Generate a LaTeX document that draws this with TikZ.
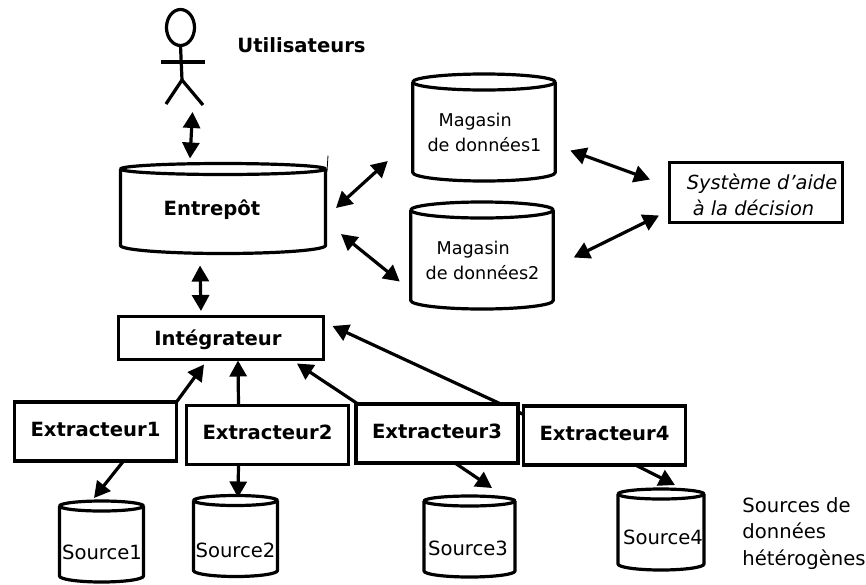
\documentclass[tikz,border=0pt]{standalone}
\usepackage{fontspec}
\setmainfont{DejaVu Sans}
\usepackage{xcolor}
\usetikzlibrary{positioning,backgrounds,shapes.geometric,calc,arrows.meta}

% Drum outline around a node: #1 node, #2 half height of the cap, #3 depth of the bottom curve
\newcommand{\drum}[3]{%
  \draw[drumline] ($(#1.north west)+(0,#2)$) -- ($(#1.south west)+(0,-#3)$)
    .. controls ($(#1.south west)+(0,-0.45*#3)$) and ($(#1.south west)!0.45!(#1.south)$) .. (#1.south)
    .. controls ($(#1.south east)!0.45!(#1.south)$) and ($(#1.south east)+(0,-0.45*#3)$) .. ($(#1.south east)+(0,-#3)$)
    -- ($(#1.north east)+(0,#2)$);
  \draw[drumline] ($(#1.north west)+(0,#2)$)
    .. controls ($(#1.north west)+(0,0.45*#2)$) and ($(#1.north west)!0.45!(#1.north)$) .. (#1.north)
    .. controls ($(#1.north east)!0.45!(#1.north)$) and ($(#1.north east)+(0,0.45*#2)$) .. ($(#1.north east)+(0,#2)$)
    .. controls ($(#1.north east)+(0,1.55*#2)$) and ($(#1.north east)!0.45!(#1.north)+(0,2*#2)$) .. ($(#1.north)+(0,2*#2)$)
    .. controls ($(#1.north west)!0.45!(#1.north)+(0,2*#2)$) and ($(#1.north west)+(0,1.55*#2)$) .. cycle;
}

\begin{document}
\begin{tikzpicture}[
    x=1pt, y=-1pt,
    box/.style={rectangle, draw=black, line width=3.2pt, fill=white, inner sep=0pt, outer sep=0pt, align=center, font=\fontsize{19.6}{24}\selectfont\bfseries},
    extract/.style={box, minimum width=162pt, minimum height=59pt, text depth=5pt},
    store/.style={rectangle, inner sep=0pt, outer sep=0pt},
    drumline/.style={draw=black, line width=3.2pt, fill=white, line join=round},
    source/.style={store, minimum width=84pt, minimum height=81pt},
    mart/.style={store, minimum width=142.5pt, minimum height=107pt},
    txt/.style={inner sep=0pt, align=left, font=\fontsize{19.6}{24}\selectfont},
    marttxt/.style={txt, font=\fontsize{17.6}{25}\selectfont},
    arrow/.style={-{Triangle[length=16pt,width=17pt]}, line width=3.2pt},
    both/.style={{Triangle[length=16pt,width=17pt]}-{Triangle[length=16pt,width=17pt]}, line width=3.2pt}
]
\useasboundingbox (0,0) rectangle (866,584);

% User figure (top)
\node[ellipse, draw=black, line width=3.2pt, minimum width=28pt, minimum height=36pt, inner sep=0pt, outer sep=0pt] (head) at (180.5,27.5) {};
\coordinate (hip) at (182,80);
\draw[line width=3.2pt] (head.south) -- (hip);
\draw[line width=3.2pt] (161,62) -- (205,62);
\draw[line width=3.2pt] (166,104) -- (hip) -- (203,105);
\node[txt, font=\fontsize{19.6}{24}\selectfont\bfseries] (users) at (301.5,45) {Utilisateurs};

% Warehouse and data marts
\node[store, minimum width=205pt, minimum height=90pt] (dw) at (223,208.5) {};
\drum{dw}{5.5}{8}
\draw[line width=0.8pt] ($(dw.east)+(1.5,-37)$) -- ($(dw.east)+(2.5,-53)$);
\node[txt, font=\fontsize{19.6}{24}\selectfont\bfseries] (dwtext) at (212,210) {Entrepôt};
\node[mart] (m1) at (484,127.5) {};
\drum{m1}{8}{8.5}
\node[marttxt] (m1text) at (484.5,132) {\hspace*{11pt}Magasin\\de données1};
\node[mart] (m2) at (482,255.5) {};
\drum{m2}{8}{8.5}
\node[marttxt] (m2text) at (482.5,260) {\hspace*{11pt}Magasin\\de données2};
\node[box, minimum width=173pt, minimum height=60pt, font=\fontsize{19.4}{26}\selectfont\itshape, align=left] (dss) at (756,192.5) {\rule{0pt}{20pt}\hspace*{12pt}Système d\symbol{39}aide\\\hspace*{18pt}à la décision};

% Integrator and extractors
\node[box, minimum width=205pt, minimum height=43pt, text height=19pt, text depth=4pt] (integ) at (221,338) {Intégrateur\hspace*{6pt}};
\node[extract] (e1) at (95.5,431.5) {Extracteur1};
\node[extract] (e2) at (267.5,435) {Extracteur2};
\node[extract] (e3) at (437,433.5) {Extracteur3};
\node[extract] (e4) at (604.5,435.5) {Extracteur4};

% Sources (bottom)
\node[source] (s1) at (101.5,541.5) {};
\drum{s1}{5}{6}
\node[txt] (s1text) at (102,552) {Source1};
\node[source] (s2) at (235.5,536) {};
\drum{s2}{5}{6}
\node[txt] (s2text) at (235.5,550) {Source2};
\node[source, minimum width=91pt] (s3) at (469.5,536.5) {};
\drum{s3}{5}{6}
\node[txt] (s3text) at (468,548) {Source3};
\node[source, minimum width=86pt] (s4) at (661,529.5) {};
\drum{s4}{5}{6}
\node[txt] (s4text) at (663,537) {Source4};
\node[txt, font=\fontsize{19.6}{26.5}\selectfont] (hetero) at (804,533.5) {Sources de\\données\\hétérogènes};

% Double arrows, all floating beside their nodes
\draw[both] ($(hip)+(10.5,32)$) -- ($(dw.north)+(-33,-5)$);
\draw[both] ($(dw.east)+(10.5,-0.5)$) -- ($(m1.west)+(-25,33.5)$);
\draw[both] ($(dw.east)+(15.5,25.5)$) -- ($(m2.west)+(-11,26)$);
\draw[both] ($(m1.east)+(15,23)$) -- ($(dss.west)+(-19.5,-13)$);
\draw[both] ($(m2.east)+(20.5,2)$) -- ($(dss.west)+(-10.5,23)$);
\draw[both] ($(dw.south)+(-23,12)$) -- ($(integ.north)+(-20,-5.5)$);

% Extractors up to integrator (behind the boxes)
\begin{scope}[on background layer]
\draw[arrow] (e1.north east) -- ($(integ.south)+(-17,5)$);
\draw[arrow] ($(e2.north)+(-29,0)$) -- ($(integ.south)+(17,1)$);
\draw[arrow] ($(e3.north west)+(2,0)$) -- ($(integ.south)+(76,4)$);
\draw[arrow] ($(e4.west)+(0,-21)$) -- ($(integ.east)+(9,-12)$);
\draw[arrow] ($(e1.south)+(28,0)$) -- ($(s1.north)+(-7.5,-3)$);
\draw[arrow] ($(e2.south)+(-29,0)$) -- ($(s2.north)+(2.5,2)$);
\draw[arrow] ($(e3.south)+(18,0)$) -- ($(s3.north)+(22.5,-8)$);
\draw[arrow] ($(e4.south)+(31,0)$) -- ($(s4.north)+(14,-4)$);
\end{scope}

\end{tikzpicture}
\end{document}
